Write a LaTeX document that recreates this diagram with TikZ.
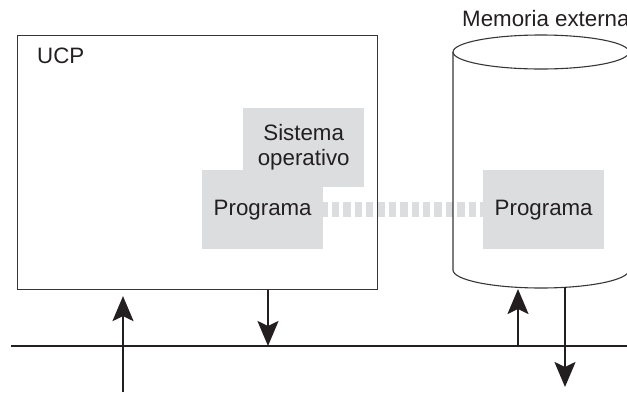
\documentclass[tikz,border=0pt]{standalone}
\usepackage{fontspec}
\setmainfont{Liberation Sans}
\usetikzlibrary{arrows.meta}
\definecolor{boxgray}{HTML}{DCDDDF}
\definecolor{ink}{HTML}{231F20}
\begin{document}
\begin{tikzpicture}[x=1pt,y=-1pt,
  frame/.style={draw=ink!90, line width=1.1pt},
  txt/.style={font=\fontsize{22.3}{25}\selectfont, text=ink, inner sep=0pt},
  graybox/.style={txt, fill=boxgray, align=center, minimum width=121pt, minimum height=79pt, anchor=north west},
  flow/.style={draw=ink, line width=2.2pt, -{Stealth[length=25pt,width=21pt,inset=5pt]}},
  bus/.style={draw=ink, line width=2.2pt},
  link/.style={draw=boxgray, line width=15pt, dash pattern=on 7.3pt off 4.1pt, dash phase=3pt}]
\useasboundingbox (0,0) rectangle (627,392);
% grey boxes
\node[graybox] (so) at (243,108) {Sistema\\operativo};
\node[graybox] (prog1) at (202,170) {Programa};
\node[graybox] (prog2) at (483,170) {Programa};
\draw[link] (prog1.east) -- (prog2.west);
% CPU frame
\node[frame, inner sep=0pt, minimum width=360pt, minimum height=254pt, anchor=north west] (ucp) at (17,35) {};
\node[txt, anchor=west] (ucplbl) at (37,56) {UCP};
% external memory cylinder
\draw[frame] (453,52) -- (453,270) arc[start angle=180, end angle=360, x radius=88pt, y radius=18pt] -- (629,52);
\draw[frame] (541,52) ellipse[x radius=88pt, y radius=17pt];
\node[txt, anchor=west] (mem) at (462,19) {Memoria externa};
% bus
\coordinate (busL) at (11,346);
\coordinate (busR) at (627,346);
\draw[bus] (busL) -- (busR);
% arrows
\coordinate (in1) at (123,392);
\coordinate (a2) at (268,346);
\coordinate (a3) at (518,346);
\coordinate (cyl3) at (518,289);
\coordinate (cyl4) at (565,287);
\coordinate (out4) at (565,387);
\draw[flow, shorten >=6pt] (in1) -- (in1 |- ucp.south);
\draw[flow] (a2 |- ucp.south) -- (a2);
\draw[flow] (a3) -- (cyl3);
\draw[flow] (cyl4) -- (out4);
\end{tikzpicture}
\end{document}
